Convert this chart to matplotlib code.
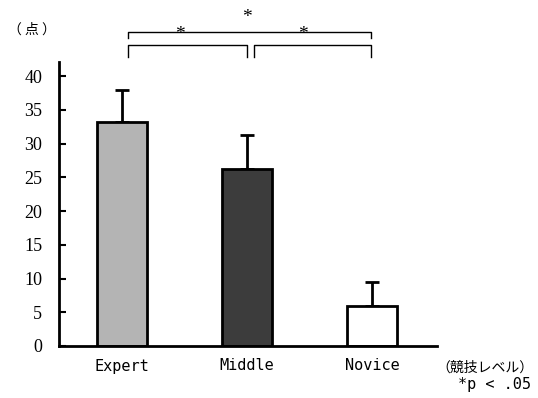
import matplotlib.pyplot as plt

# données
levels = ["Expert", "Middle", "Novice"]
scores = [33.2, 26.2, 5.9]
errors = [4.7, 5.1, 3.6]
colors = ["#b4b4b4", "#3c3c3c", "#ffffff"]

plt.rcParams['font.family'] = ['Liberation Serif', 'Noto Sans CJK JP']

fig = plt.figure(figsize=(5.38, 3.98), dpi=100)
ax = fig.add_axes([59 / 538, 52 / 398, 378 / 538, 284 / 398])

x = list(range(len(levels)))
ax.bar(x, scores, width=0.4, color=colors, edgecolor="black", linewidth=2, zorder=2)
ax.errorbar(x, scores, yerr=[[0] * len(errors), errors], fmt="none",
            ecolor="black", elinewidth=2, capsize=5, capthick=2, zorder=1)

ax.set_xlim(-0.504, 2.52)
ax.set_ylim(0, 42.1)
ax.set_yticks(range(0, 41, 5))
ax.tick_params(axis="y", direction="in", length=5, width=1.5, labelsize=13, pad=12)
ax.tick_params(axis="x", length=0, labelsize=11, pad=9)
ax.set_xticks(x)
ax.set_xticklabels(levels, family="DejaVu Sans Mono")
for side in ["top", "right"]:
    ax.spines[side].set_visible(False)
ax.spines["left"].set_linewidth(2)
ax.spines["bottom"].set_linewidth(2)

# crochets de significativité
def bracket(x0, x1, y, drop):
    ax.plot([x0, x0, x1, x1], [y - drop, y, y, y - drop], color="black",
            lw=1, clip_on=False)

bracket(0.048, 1.0, 44.6, 1.8)
bracket(1.056, 1.992, 44.6, 1.8)
bracket(0.048, 1.992, 46.5, 0.8)
ax.text(0.46, 44.9, "*", ha="center", va="bottom", fontsize=14, clip_on=False)
ax.text(1.45, 44.9, "*", ha="center", va="bottom", fontsize=14, clip_on=False)
ax.text(1.0, 47.5, "*", ha="center", va="bottom", fontsize=14, clip_on=False)

fig.text(8 / 538, 1 - 30 / 398, "（ 点 ）", fontsize=10, va="center",
         family=["Noto Sans CJK JP"])
fig.text(485 / 538, 1 - 368 / 398, "（競技レベル）", fontsize=10, ha="center",
         va="center", family=["Noto Sans CJK JP"])
fig.text(495 / 538, 1 - 385 / 398, "*p < .05", fontsize=11, ha="center",
         va="center", family=["DejaVu Sans Mono"])

fig.savefig("out.png", dpi=100)
